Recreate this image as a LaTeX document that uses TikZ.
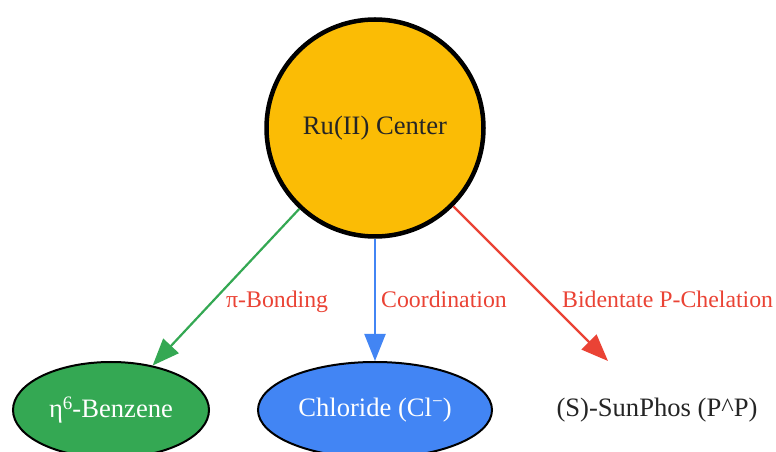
\documentclass[tikz,border=0pt]{standalone}
\usepackage{fontspec}
\setmainfont{Liberation Serif}
\usetikzlibrary{shapes.geometric,arrows.meta}
\definecolor{gyellow}{HTML}{FBBC05}
\definecolor{ggreen}{HTML}{34A853}
\definecolor{gblue}{HTML}{4285F4}
\definecolor{gred}{HTML}{EA4335}
\definecolor{txtdark}{HTML}{252525}
\newcommand{\supr}[1]{\raisebox{0.33em}{\fontsize{19}{20}\selectfont #1}}
\tikzset{
  nodefont/.style={font=\fontsize{26.6}{30}\selectfont},
  labelfont/.style={font=\fontsize{23.8}{27}\selectfont, text=gred},
  centerbox/.style={circle, draw=black, line width=4.5pt, fill=gyellow, minimum size=217pt, inner sep=0pt, nodefont, text=txtdark},
  ligandbox/.style={ellipse, draw=black, line width=2pt, minimum height=96pt, inner sep=0pt, nodefont, text=white},
  plainbox/.style={ellipse, minimum width=216pt, minimum height=104pt, inner sep=0pt, nodefont, text=txtdark},
  bond/.style={line width=2.2pt, -{Triangle[length=27pt,width=21pt]}},
  edgelabel/.style={labelfont, anchor=base west, inner sep=0pt}
}
\begin{document}
\begin{tikzpicture}[x=1pt,y=1pt]
  \clip (0,0) rectangle (776,452);
  \useasboundingbox (0,0) rectangle (776,452);
  \node[centerbox] (ru) at (375,324) {Ru(II) Center};
  \node[ligandbox, fill=ggreen, minimum width=196pt] (bz) at (111,42) {η\supr{6}-Benzene};
  \node[ligandbox, fill=gblue, minimum width=234pt] (cl) at (375,42) {Chloride (Cl\supr{−})};
  \node[plainbox] (sp) at (657,42) {(S)-SunPhos (P\^{}P)};
  \draw[bond, ggreen] (ru) -- (bz);
  \draw[bond, gblue] (ru) -- (cl);
  \draw[bond, gred] (ru) -- (sp);
  \node[edgelabel] (lpi) at (226,144) {π-Bonding};
  \node[edgelabel] (lco) at (381,144) {Coordination};
  \node[edgelabel] (lbi) at (562,144) {Bidentate P-Chelation};
\end{tikzpicture}
\end{document}
